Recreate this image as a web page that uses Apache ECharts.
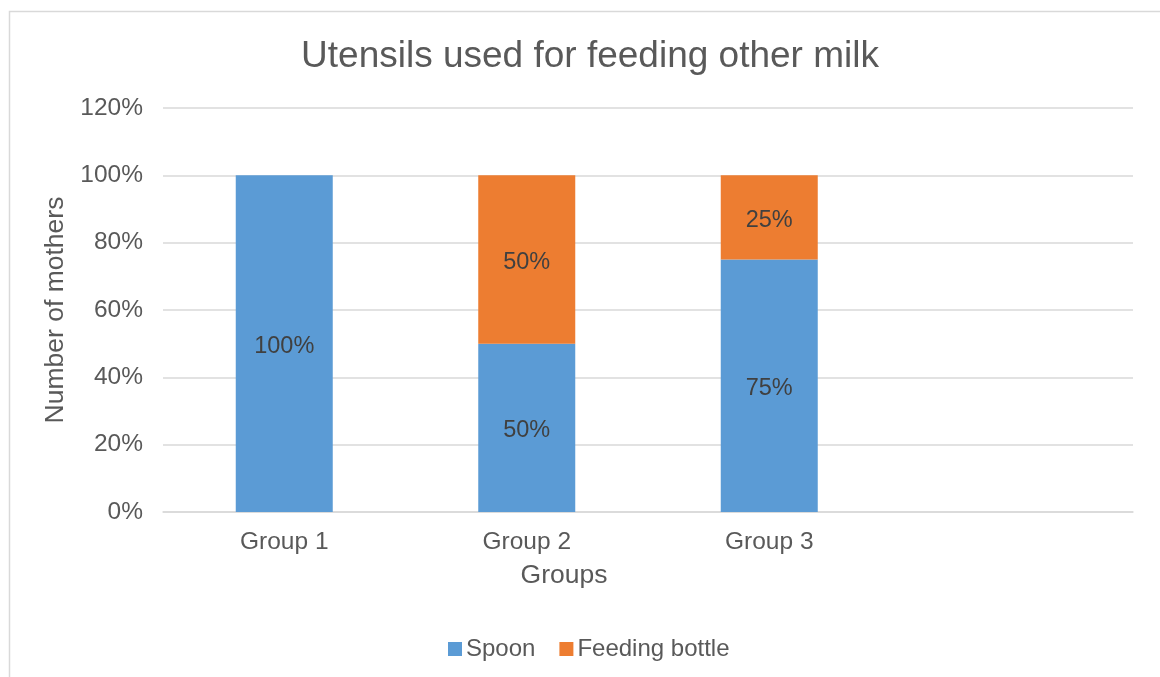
<!DOCTYPE html>
<html>
<head>
<meta charset="utf-8">
<script src="https://cdn.jsdelivr.net/npm/echarts@6/dist/echarts.min.js"></script>
<style>
  html, body { margin: 0; padding: 0; background: #fff; }
  #chart { width: 1160px; height: 677px; }
</style>
</head>
<body>
<div id="chart"></div>
<script>
// Share of mothers by feeding utensil, per study group
const categories = ['Group 1', 'Group 2', 'Group 3', ''];
const spoon = [100, 50, 75, null];
const feedingBottle = [null, 50, 25, null];
const yTicks = { min: 0, max: 120, interval: 20 };

const FONT = 'Liberation Sans, Arial, sans-serif';
const TEXT = '#595959';

const chart = echarts.init(document.getElementById('chart'), null, { renderer: 'canvas' });

const labelStyle = {
  show: true,
  position: 'inside',
  offset: [0, 3],
  color: '#404040',
  fontFamily: FONT,
  fontSize: 23.5,
  formatter: p => p.value == null ? '' : p.value + '%'
};

chart.setOption({
  animation: false,
  color: ['#5B9BD5', '#ED7D31'],
  graphic: [{
    type: 'rect',
    silent: true,
    shape: { x: 9.5, y: 11.5, width: 1200, height: 720 },
    style: { fill: 'none', stroke: '#D9D9D9', lineWidth: 1.5 }
  }],
  title: {
    text: 'Utensils used for feeding other milk',
    left: 585,
    top: 33,
    textAlign: 'center',
    textStyle: { color: TEXT, fontFamily: FONT, fontSize: 37, fontWeight: 'normal' }
  },
  legend: {
    top: 632,
    left: 443,
    itemWidth: 14,
    itemHeight: 14,
    itemGap: 24,
    icon: 'rect',
    textStyle: { color: TEXT, fontFamily: FONT, fontSize: 24, padding: [0, 0, 0, -1] },
    data: ['Spoon', 'Feeding bottle']
  },
  grid: { left: 163, right: 27, top: 108, bottom: 165, containLabel: false },
  xAxis: {
    type: 'category',
    data: categories,
    name: 'Groups',
    nameLocation: 'middle',
    nameGap: 50,
    nameTextStyle: { color: TEXT, fontFamily: FONT, fontSize: 26.5, padding: [0, 168, 0, 0] },
    axisLine: { lineStyle: { color: '#D9D9D9', width: 1.5 } },
    axisTick: { show: false },
    axisLabel: { color: TEXT, fontFamily: FONT, fontSize: 24.5, margin: 18 }
  },
  yAxis: {
    type: 'value',
    min: yTicks.min,
    max: yTicks.max,
    interval: yTicks.interval,
    name: 'Number of mothers',
    nameLocation: 'middle',
    nameGap: 90,
    nameTextStyle: { color: TEXT, fontFamily: FONT, fontSize: 26.5 },
    axisLine: { show: false },
    axisTick: { show: false },
    axisLabel: { color: TEXT, fontFamily: FONT, fontSize: 24.5, margin: 20, formatter: '{value}%' },
    splitLine: { lineStyle: { color: '#D9D9D9', width: 1.5 } }
  },
  series: [
    {
      name: 'Spoon',
      type: 'bar',
      stack: 'total',
      barWidth: '40%',
      data: spoon,
      label: labelStyle
    },
    {
      name: 'Feeding bottle',
      type: 'bar',
      stack: 'total',
      barWidth: '40%',
      data: feedingBottle,
      label: labelStyle
    }
  ]
});
</script>
</body>
</html>
